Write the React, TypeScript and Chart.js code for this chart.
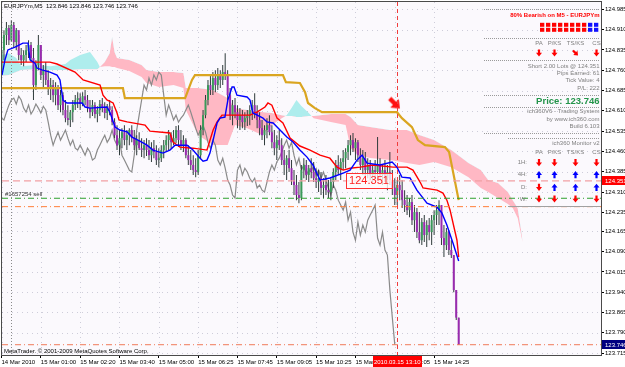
import React, { useEffect, useRef } from 'react';
import { Chart, registerables } from 'chart.js';

Chart.register(...registerables);

const FONT = '"Liberation Sans", Arial, sans-serif';

// ---------------- data ----------------
const chartTitle = 'EURJPYm,M5  123.846 123.846 123.746 123.746';
const copyright = 'MetaTrader. \u00a9 2001-2009 MetaQuotes Software Corp.';
const orderLabel = '#1657254 sell';

const barOpen = [
  124.760, 124.834, 124.890, 124.916, 124.871, 124.927, 124.864, 124.908, 124.816, 124.797,
  124.816, 124.834, 124.853, 124.805, 124.705, 124.779, 124.853, 124.742, 124.760, 124.724,
  124.694, 124.705, 124.668, 124.694, 124.631, 124.668, 124.613, 124.583, 124.576, 124.605,
  124.631, 124.650, 124.657, 124.635, 124.664, 124.650, 124.620, 124.605, 124.631, 124.598,
  124.613, 124.635, 124.620, 124.602, 124.627, 124.613, 124.568, 124.520, 124.483, 124.509,
  124.531, 124.502, 124.520, 124.539, 124.509, 124.483, 124.502, 124.472, 124.465, 124.483,
  124.465, 124.446, 124.472, 124.458, 124.428, 124.435, 124.465, 124.483, 124.502, 124.520,
  124.494, 124.509, 124.539, 124.502, 124.483, 124.502, 124.446, 124.428, 124.410, 124.391,
  124.384, 124.446, 124.539, 124.594, 124.650, 124.705, 124.687, 124.731, 124.705, 124.742,
  124.724, 124.753, 124.742, 124.668, 124.594, 124.631, 124.605, 124.576, 124.594, 124.568,
  124.583, 124.594, 124.613, 124.631, 124.605, 124.576, 124.546, 124.520, 124.539, 124.557,
  124.531, 124.494, 124.472, 124.502, 124.483, 124.428, 124.410, 124.435, 124.398, 124.354,
  124.336, 124.299, 124.288, 124.391, 124.410, 124.373, 124.398, 124.384, 124.361, 124.347,
  124.361, 124.325, 124.336, 124.317, 124.310, 124.347, 124.384, 124.410, 124.391, 124.421,
  124.435, 124.458, 124.483, 124.502, 124.472, 124.494, 124.446, 124.410, 124.435, 124.391,
  124.410, 124.373, 124.391, 124.384, 124.410, 124.373, 124.391, 124.361, 124.384, 124.354,
  124.325, 124.299, 124.336, 124.317, 124.280, 124.262, 124.243, 124.273, 124.206, 124.236,
  124.162, 124.132, 124.199, 124.151, 124.188, 124.162, 124.206, 124.225, 124.243, 124.262,
  124.140, 124.114, 124.162, 124.096, 124.077, 123.948, 123.846,
];
const barHigh = [
  124.871, 124.908, 124.938, 124.927, 124.945, 124.938, 124.916, 124.890, 124.842, 124.834,
  124.853, 124.871, 124.864, 124.842, 124.797, 124.890, 124.853, 124.779, 124.790, 124.760,
  124.731, 124.724, 124.716, 124.705, 124.687, 124.679, 124.650, 124.631, 124.613, 124.650,
  124.668, 124.679, 124.675, 124.679, 124.687, 124.668, 124.650, 124.650, 124.642, 124.627,
  124.650, 124.657, 124.642, 124.635, 124.650, 124.627, 124.583, 124.557, 124.539, 124.546,
  124.557, 124.539, 124.546, 124.557, 124.539, 124.520, 124.531, 124.509, 124.502, 124.509,
  124.502, 124.494, 124.502, 124.483, 124.472, 124.483, 124.502, 124.520, 124.539, 124.531,
  124.539, 124.554, 124.557, 124.539, 124.520, 124.509, 124.483, 124.465, 124.446, 124.435,
  124.465, 124.557, 124.613, 124.668, 124.724, 124.742, 124.753, 124.760, 124.768, 124.760,
  124.779, 124.823, 124.760, 124.694, 124.650, 124.657, 124.631, 124.620, 124.613, 124.605,
  124.613, 124.631, 124.650, 124.675, 124.631, 124.605, 124.576, 124.557, 124.583, 124.594,
  124.557, 124.539, 124.520, 124.539, 124.509, 124.465, 124.446, 124.465, 124.428, 124.391,
  124.373, 124.347, 124.410, 124.435, 124.428, 124.410, 124.435, 124.421, 124.398, 124.391,
  124.384, 124.361, 124.373, 124.354, 124.361, 124.398, 124.428, 124.446, 124.435, 124.465,
  124.472, 124.502, 124.520, 124.528, 124.509, 124.502, 124.472, 124.465, 124.458, 124.435,
  124.428, 124.410, 124.428, 124.513, 124.435, 124.410, 124.428, 124.410, 124.458, 124.391,
  124.361, 124.354, 124.373, 124.354, 124.317, 124.299, 124.288, 124.299, 124.262, 124.251,
  124.236, 124.214, 124.225, 124.206, 124.214, 124.225, 124.243, 124.262, 124.280, 124.262,
  124.188, 124.177, 124.169, 124.132, 124.077, 123.948, 123.846,
];
const barLow = [
  124.742, 124.797, 124.853, 124.853, 124.864, 124.842, 124.834, 124.797, 124.779, 124.775,
  124.790, 124.805, 124.790, 124.650, 124.687, 124.760, 124.724, 124.694, 124.705, 124.668,
  124.650, 124.642, 124.631, 124.613, 124.605, 124.594, 124.568, 124.557, 124.550, 124.568,
  124.613, 124.620, 124.613, 124.627, 124.631, 124.605, 124.583, 124.591, 124.583, 124.568,
  124.591, 124.605, 124.583, 124.576, 124.594, 124.557, 124.509, 124.465, 124.446, 124.472,
  124.483, 124.465, 124.483, 124.494, 124.465, 124.446, 124.465, 124.439, 124.435, 124.443,
  124.428, 124.421, 124.435, 124.410, 124.402, 124.421, 124.435, 124.458, 124.465, 124.472,
  124.483, 124.491, 124.476, 124.465, 124.458, 124.435, 124.410, 124.391, 124.373, 124.365,
  124.373, 124.435, 124.520, 124.583, 124.631, 124.668, 124.668, 124.679, 124.687, 124.694,
  124.705, 124.724, 124.650, 124.576, 124.557, 124.583, 124.546, 124.539, 124.546, 124.539,
  124.554, 124.557, 124.576, 124.583, 124.546, 124.520, 124.502, 124.483, 124.509, 124.520,
  124.472, 124.446, 124.428, 124.465, 124.410, 124.373, 124.354, 124.384, 124.336, 124.299,
  124.280, 124.269, 124.280, 124.361, 124.354, 124.347, 124.361, 124.347, 124.325, 124.310,
  124.299, 124.288, 124.299, 124.288, 124.280, 124.325, 124.354, 124.373, 124.354, 124.391,
  124.398, 124.428, 124.446, 124.458, 124.428, 124.421, 124.391, 124.373, 124.365, 124.361,
  124.354, 124.347, 124.361, 124.354, 124.354, 124.336, 124.347, 124.317, 124.336, 124.299,
  124.262, 124.262, 124.280, 124.251, 124.236, 124.225, 124.217, 124.188, 124.162, 124.140,
  124.121, 124.114, 124.125, 124.107, 124.132, 124.114, 124.151, 124.188, 124.188, 124.114,
  124.070, 124.096, 124.077, 124.066, 123.940, 123.837, 123.746,
];
const barClose = [
  124.834, 124.890, 124.916, 124.871, 124.927, 124.864, 124.908, 124.816, 124.797, 124.816,
  124.834, 124.853, 124.805, 124.705, 124.779, 124.853, 124.742, 124.760, 124.724, 124.694,
  124.705, 124.668, 124.694, 124.631, 124.668, 124.613, 124.583, 124.576, 124.605, 124.631,
  124.650, 124.657, 124.635, 124.664, 124.650, 124.620, 124.605, 124.631, 124.598, 124.613,
  124.635, 124.620, 124.602, 124.627, 124.613, 124.568, 124.520, 124.483, 124.509, 124.531,
  124.502, 124.520, 124.539, 124.509, 124.483, 124.502, 124.472, 124.465, 124.483, 124.465,
  124.446, 124.472, 124.458, 124.428, 124.435, 124.465, 124.483, 124.502, 124.520, 124.494,
  124.509, 124.539, 124.502, 124.483, 124.502, 124.446, 124.428, 124.410, 124.391, 124.384,
  124.446, 124.539, 124.594, 124.650, 124.705, 124.687, 124.731, 124.705, 124.742, 124.724,
  124.753, 124.742, 124.668, 124.594, 124.631, 124.605, 124.576, 124.594, 124.568, 124.583,
  124.594, 124.613, 124.631, 124.605, 124.576, 124.546, 124.520, 124.539, 124.557, 124.531,
  124.494, 124.472, 124.502, 124.483, 124.428, 124.410, 124.435, 124.398, 124.354, 124.336,
  124.299, 124.288, 124.391, 124.410, 124.373, 124.398, 124.384, 124.361, 124.347, 124.361,
  124.325, 124.336, 124.317, 124.310, 124.347, 124.384, 124.410, 124.391, 124.421, 124.435,
  124.458, 124.483, 124.502, 124.472, 124.494, 124.446, 124.410, 124.435, 124.391, 124.410,
  124.373, 124.391, 124.384, 124.410, 124.373, 124.391, 124.361, 124.384, 124.354, 124.325,
  124.299, 124.336, 124.317, 124.280, 124.262, 124.243, 124.273, 124.206, 124.236, 124.162,
  124.132, 124.199, 124.151, 124.188, 124.162, 124.206, 124.225, 124.243, 124.262, 124.140,
  124.114, 124.162, 124.096, 124.077, 123.948, 123.846, 123.746,
];

// indicator lines: [bar index, price]
const tenkanLine = [
  [0.2, 124.742], [1.4, 124.798], [2.6, 124.835], [5.5, 124.845], [8.7, 124.860], [10.8, 124.860],
  [11.6, 124.798], [13.6, 124.786], [14.4, 124.768], [16.5, 124.761], [19.7, 124.753], [22.6, 124.742],
  [23.8, 124.724], [25, 124.650], [26.6, 124.639], [32.8, 124.639], [34, 124.624], [36, 124.620],
  [42.9, 124.624], [44.1, 124.605], [46.2, 124.550], [48.2, 124.539], [51.1, 124.532], [53.1, 124.513],
  [56.3, 124.498], [59.2, 124.483], [61.6, 124.465], [65.7, 124.454], [68.5, 124.465], [70.6, 124.483],
  [75.5, 124.483], [77.9, 124.465], [80.8, 124.435], [82, 124.424], [83.6, 124.428], [84.8, 124.454],
  [86.1, 124.502], [87.7, 124.565], [88.9, 124.583], [90.9, 124.587], [92.1, 124.650], [93.8, 124.698],
  [94.6, 124.698], [95.8, 124.668], [99.9, 124.661], [101.1, 124.650], [102.3, 124.602], [106.4, 124.583],
  [108, 124.569], [110.5, 124.565], [113.3, 124.539], [116.1, 124.513], [118.6, 124.495], [121.4, 124.465],
  [124.3, 124.439], [126.7, 124.410], [129.6, 124.354], [133.6, 124.362], [139, 124.380], [141.8, 124.391],
  [144.6, 124.428], [146.7, 124.446], [148.7, 124.417], [154, 124.410], [158.9, 124.421], [160.9, 124.402],
  [162.9, 124.365], [166.2, 124.362], [169, 124.317], [173.1, 124.269], [177.2, 124.254], [179.2, 124.232],
  [181.2, 124.188], [183.7, 124.121], [186, 124.055],
];
const kijunLine = [
  [0.2, 124.790], [19.7, 124.790], [22.6, 124.783], [29.9, 124.753], [33.2, 124.724], [40.1, 124.705],
  [41.3, 124.668], [42.9, 124.650], [45.4, 124.639], [47, 124.602], [47.8, 124.576], [51.1, 124.569],
  [58.4, 124.557], [60.4, 124.535], [68.5, 124.528], [69.8, 124.495], [72.6, 124.476], [77.9, 124.472],
  [83.6, 124.465], [86.1, 124.539], [87.7, 124.569], [89.7, 124.594], [101.1, 124.594], [103.9, 124.605],
  [107.2, 124.624], [108.4, 124.639], [110, 124.631], [112.1, 124.583], [114.5, 124.565], [117.4, 124.509],
  [121.4, 124.480], [125.5, 124.465], [129.6, 124.446], [133.6, 124.435], [136.5, 124.402], [139, 124.391],
  [141.8, 124.398], [145.9, 124.402], [151.1, 124.410], [159.3, 124.402], [165, 124.402], [167.4, 124.391],
  [170.3, 124.347], [171.5, 124.325], [177.2, 124.317], [179.6, 124.306], [181.2, 124.280], [182.5, 124.243],
  [185.3, 124.132], [186, 124.070],
];
const orangeLine = [
  [0.2, 124.694], [49.4, 124.694], [50.2, 124.657], [74.7, 124.657], [77.5, 124.724], [78.7, 124.742],
  [114.5, 124.742], [115.7, 124.716], [121.4, 124.713], [123.5, 124.679], [124.7, 124.639], [127.5, 124.620],
  [130.4, 124.605], [160.9, 124.605], [162.9, 124.583], [167, 124.550], [169.4, 124.502], [172.3, 124.483],
  [180.4, 124.476], [182.1, 124.458], [186, 124.280],
];
const kumoBars = [
  0, 3, 6, 8, 14, 20, 26, 28, 32, 36, 39, 40, 42, 44, 45, 46, 47, 52, 57, 59, 64, 70, 74, 75, 80, 86, 92, 95,
  100, 106, 110, 114, 116, 118, 120, 122, 125, 127, 134, 140, 142, 145, 150, 158, 165, 170, 176, 183, 190,
  195, 198, 202, 206, 208, 210, 212,
];
const senkouA = [
  124.816, 124.823, 124.805, 124.775, 124.779, 124.775, 124.783, 124.798, 124.816, 124.827, 124.790, 124.772,
  124.775, 124.775, 124.772, 124.772, 124.768, 124.757, 124.735, 124.713, 124.698, 124.705, 124.694, 124.613,
  124.521, 124.484, 124.484, 124.558, 124.546, 124.521, 124.558, 124.583, 124.594, 124.620, 124.650, 124.628,
  124.602, 124.583, 124.569, 124.558, 124.473, 124.447, 124.436, 124.428, 124.417, 124.410, 124.421, 124.402,
  124.365, 124.325, 124.310, 124.288, 124.266, 124.251, 124.214, 124.125,
];
const senkouB = [
  124.739, 124.742, 124.753, 124.761, 124.764, 124.761, 124.761, 124.761, 124.764, 124.764, 124.764, 124.772,
  124.790, 124.823, 124.883, 124.827, 124.805, 124.798, 124.779, 124.761, 124.753, 124.753, 124.750, 124.694,
  124.694, 124.687, 124.657, 124.620, 124.613, 124.606, 124.602, 124.594, 124.591, 124.591, 124.587, 124.587,
  124.591, 124.591, 124.598, 124.598, 124.587, 124.558, 124.550, 124.539, 124.539, 124.521, 124.502, 124.465,
  124.417, 124.391, 124.354, 124.343, 124.310, 124.280, 124.251, 124.133,
];

const xTickBars = [0, 16, 32, 48, 64, 80, 96, 112, 128, 144, 160, 176];
const xTickLabels = [
  '14 Mar 2010', '15 Mar 01:00', '15 Mar 02:20', '15 Mar 03:40', '15 Mar 05:00', '15 Mar 06:25',
  '15 Mar 07:45', '15 Mar 09:05', '15 Mar 10:25', '15 Mar 11:45', '15 Mar 13:05', '15 Mar 14:25',
];
const yTickValues = [
  124.985, 124.910, 124.835, 124.760, 124.685, 124.610, 124.535, 124.460, 124.385, 124.310,
  124.235, 124.165, 124.090, 124.015, 123.940, 123.865, 123.790, 123.715,
];

const entryPrice = 124.351;
const greenLevel = 124.287;
const orangeLevel = 124.256;
const bidPrice = 123.746;
const chikouShift = 26;
const separatorBar = 4;
const cursorBar = 161;
const cursorTime = '2010.03.15 13:10';
const signalBar = 160;
const signalPrice = 124.637;
const entryLabelBar = 140.2;
const xMin = 0.2;
const xMax = 243.9;
const yMin = 123.708;
const yMax = 125.012;

// info panel
const panelHeadline = '80% Bearish on M5 - EURJPYm';
const strengthBoxes = [1, 1, 1, 1, 1, 1, 1, 1, 0, 0];
const signalCols = ['PA', 'P/KS', 'TS/KS', 'CS'];
const m5Signals = [-1, -1, -2, -1];
const tradeInfo = ['Short 2.00 Lots @ 124.351', 'Pips Earned: 61', 'Tick Value: 4', 'P/L: 222'];
const priceText = 'Price: 123.746';
const aboutInfo = ['ich360V6 - Trading System', 'by www.ich360.com', 'Build 6.103'];
const monitorTitle = 'ich360 Monitor v2';
const monitorRows = ['1H:', '4H:', 'D:', 'W:'];
const monitorSignals = [
  [-1, -1, -1, -1],
  [1, 1, 1, 1],
  [-1, 1, 1, 1],
  [-1, -1, -1, -1],
];

// ---------------- drawing helpers ----------------
function drawArrow(ctx: CanvasRenderingContext2D, cx: number, cy: number, angle: number, s: number, color: string) {
  ctx.save();
  ctx.translate(cx, cy);
  ctx.rotate(angle);
  ctx.fillStyle = color;
  ctx.beginPath();
  ctx.moveTo(-1.1 * s, -3.6 * s);
  ctx.lineTo(1.1 * s, -3.6 * s);
  ctx.lineTo(1.1 * s, -0.2 * s);
  ctx.lineTo(3 * s, -0.2 * s);
  ctx.lineTo(0, 3.6 * s);
  ctx.lineTo(-3 * s, -0.2 * s);
  ctx.lineTo(-1.1 * s, -0.2 * s);
  ctx.closePath();
  ctx.fill();
  ctx.restore();
}
function signalArrow(ctx: CanvasRenderingContext2D, cx: number, cy: number, sig: number) {
  if (sig === 1) drawArrow(ctx, cx, cy, Math.PI, 1, '#0000ff');
  else if (sig === -2) drawArrow(ctx, cx, cy, -Math.PI / 4, 1, '#ff0000');
  else drawArrow(ctx, cx, cy, 0, 1, '#ff0000');
}
function hline(ctx: CanvasRenderingContext2D, x0: number, x1: number, y: number, dash: number[], color: string) {
  ctx.save();
  ctx.strokeStyle = color;
  ctx.lineWidth = 1;
  ctx.setLineDash(dash);
  ctx.beginPath();
  ctx.moveTo(x0, Math.round(y) + 0.5);
  ctx.lineTo(x1, Math.round(y) + 0.5);
  ctx.stroke();
  ctx.restore();
}

const mtPlugin = {
  id: 'mtOverlay',
  beforeDraw(chart: any) {
    const { ctx, chartArea: a } = chart;
    const xs = chart.scales.x;
    const ys = chart.scales.y;
    ctx.save();
    ctx.fillStyle = '#ffffff';
    ctx.fillRect(0, 0, chart.width, chart.height);
    ctx.fillStyle = '#fbf9fd';
    ctx.fillRect(a.left, a.top, a.right - a.left, a.bottom - a.top);
    ctx.strokeStyle = 'rgba(150,150,175,0.45)';
    ctx.lineWidth = 1;
    ctx.setLineDash([1, 4]);
    ctx.beginPath();
    xTickBars.forEach((b) => {
      const x = Math.round(xs.getPixelForValue(b)) + 0.5;
      if (x > a.left && x < a.right) { ctx.moveTo(x, a.top); ctx.lineTo(x, a.bottom); }
    });
    yTickValues.forEach((v) => {
      const y = Math.round(ys.getPixelForValue(v)) + 0.5;
      if (y > a.top && y < a.bottom) { ctx.moveTo(a.left, y); ctx.lineTo(a.right, y); }
    });
    ctx.stroke();
    ctx.restore();
  },
  afterDatasetsDraw(chart: any) {
    const { ctx, chartArea: a } = chart;
    const xs = chart.scales.x;
    const ys = chart.scales.y;
    ctx.save();
    // period separator
    const sx = Math.round(xs.getPixelForValue(separatorBar)) + 0.5;
    ctx.strokeStyle = '#8a8a8a';
    ctx.lineWidth = 1;
    ctx.setLineDash([1, 2]);
    ctx.beginPath(); ctx.moveTo(sx, a.top); ctx.lineTo(sx, a.bottom); ctx.stroke();
    // cursor line
    const cx = Math.round(xs.getPixelForValue(cursorBar)) + 0.5;
    ctx.strokeStyle = '#f03c3c';
    ctx.setLineDash([4, 3]);
    ctx.beginPath(); ctx.moveTo(cx, a.top); ctx.lineTo(cx, a.bottom); ctx.stroke();
    ctx.setLineDash([]);

    // entry price label on chart
    const ex = xs.getPixelForValue(entryLabelBar);
    const ey = ys.getPixelForValue(entryPrice);
    ctx.font = `11px ${FONT}`;
    const et = entryPrice.toFixed(3);
    const ew = ctx.measureText(et).width;
    ctx.fillStyle = 'rgba(255,250,250,0.8)';
    ctx.fillRect(ex, ey - 7.5, ew + 6, 15);
    ctx.strokeStyle = '#ff3030';
    ctx.lineWidth = 1;
    ctx.strokeRect(Math.round(ex) + 0.5, Math.round(ey - 7.5) + 0.5, Math.round(ew + 6), 15);
    ctx.fillStyle = '#ff2020';
    ctx.textAlign = 'left';
    ctx.textBaseline = 'middle';
    ctx.fillText(et, ex + 3, ey + 0.5);

    // small texts
    ctx.font = `6px ${FONT}`;
    ctx.fillStyle = '#000000';
    ctx.fillText(chartTitle, 4, 6.5);
    ctx.fillText(copyright, 4, 351.5);
    ctx.fillStyle = '#333333';
    ctx.fillText(orderLabel, 5, 194.5);

    // ---- right info panel ----
    const R = 599.5;
    const dotted = (y: number, x0: number) => hline(ctx, x0, 600, y, [1, 1], '#9a9a9a');
    [8.7, 38.3, 60, 95, 107.3, 132.7].forEach((y) => dotted(y, 484));
    dotted(137.5, 508);
    hline(ctx, 508, 600, 205.7, [], '#a0a0a0');

    ctx.textAlign = 'right';
    ctx.font = `bold 6px ${FONT}`;
    ctx.fillStyle = '#ff0000';
    ctx.fillText(panelHeadline, R, 15.7);
    strengthBoxes.forEach((b, k) => {
      ctx.fillStyle = b ? '#ff0000' : '#1010ff';
      ctx.fillRect(540 + k * 6, 22.8, 4.3, 4);
      ctx.fillRect(540 + k * 6, 27.8, 4.3, 4);
    });
    const colX = [539, 554.5, 575.5, 596.5];
    ctx.font = `6px ${FONT}`;
    ctx.fillStyle = '#808080';
    ctx.textAlign = 'center';
    signalCols.forEach((c, k) => ctx.fillText(c, colX[k], 43.7));
    m5Signals.forEach((s, k) => signalArrow(ctx, colX[k], 53, s));
    ctx.textAlign = 'right';
    ctx.fillStyle = '#808080';
    [66, 73.3, 80.7, 88].forEach((y, k) => ctx.fillText(tradeInfo[k], R, y));
    ctx.font = `bold 9.5px ${FONT}`;
    ctx.fillStyle = '#23944a';
    ctx.fillText(priceText, R, 101);
    ctx.font = `6px ${FONT}`;
    ctx.fillStyle = '#808080';
    [111.7, 119, 126].forEach((y, k) => ctx.fillText(aboutInfo[k], R, y));
    ctx.fillText(monitorTitle, R, 143.3);
    ctx.textAlign = 'center';
    signalCols.forEach((c, k) => ctx.fillText(c, colX[k], 152.7));
    const rowY = [162.7, 174.7, 187.3, 199];
    monitorRows.forEach((r, j) => {
      ctx.textAlign = 'right';
      ctx.fillStyle = '#808080';
      ctx.fillText(r, 527, rowY[j]);
      monitorSignals[j].forEach((s, k) => signalArrow(ctx, colX[k], rowY[j], s));
    });
    ctx.restore();
  },
  afterDraw(chart: any) {
    const { ctx, chartArea: a } = chart;
    const xs = chart.scales.x;
    const ys = chart.scales.y;
    ctx.save();
    ctx.strokeStyle = '#4a4a4a';
    ctx.lineWidth = 1;
    ctx.strokeRect(a.left - 0.5, a.top - 0.5, a.right - a.left + 1, a.bottom - a.top + 1);
    ctx.font = `6px ${FONT}`;
    ctx.textBaseline = 'middle';
    // price boxes on right axis
    const boxes = [
      { v: entryPrice, bg: '#ff0000' },
      { v: bidPrice, bg: '#000080' },
    ];
    boxes.forEach((b) => {
      const y = ys.getPixelForValue(b.v);
      ctx.fillStyle = b.bg;
      ctx.fillRect(a.right + 1, Math.round(y - 4.5), 24, 9);
      ctx.fillStyle = '#ffffff';
      ctx.textAlign = 'left';
      ctx.fillText(b.v.toFixed(3), a.right + 4, y + 0.3);
    });
    // cursor time box on x axis
    const cx = xs.getPixelForValue(cursorBar);
    ctx.fillStyle = '#ff0000';
    ctx.fillRect(Math.round(cx - 24.5), a.bottom + 1, 49, 11);
    ctx.fillStyle = '#ffffff';
    ctx.textAlign = 'center';
    ctx.fillText(cursorTime, cx, a.bottom + 7);
    ctx.restore();
  },
};

export default function App() {
  const ref = useRef<HTMLCanvasElement | null>(null);
  useEffect(() => {
    const canvas = ref.current;
    if (!canvas) return;

    const arrowImg = document.createElement('canvas');
    arrowImg.width = 22;
    arrowImg.height = 22;
    const actx = arrowImg.getContext('2d');
    if (actx) drawArrow(actx, 11, 11, -Math.PI / 4, 2, '#ff1010');

    const BULL = '#3a9a5a';
    const BEAR = '#9a2ab0';
    const lvl = (v: number) => [{ x: xMin, y: v }, { x: xMax, y: v }];
    const pts = (arr: number[][]) => arr.map(([x, y]) => ({ x, y }));

    const datasets: any[] = [
      { type: 'line', data: pts(tenkanLine), borderColor: '#0000ff', borderWidth: 1.4, pointRadius: 0, order: 1 },
      { type: 'line', data: pts(kijunLine), borderColor: '#ff0000', borderWidth: 1.4, pointRadius: 0, order: 2 },
      { type: 'line', data: pts(orangeLine), borderColor: '#daa520', borderWidth: 2.2, pointRadius: 0, order: 3 },
      {
        type: 'line', data: [{ x: signalBar, y: signalPrice }], showLine: false,
        pointStyle: arrowImg, pointRadius: 8, order: 0,
      },
      {
        type: 'bar', data: barOpen.map((o, i) => ({ x: i, y: [o, barClose[i]] })),
        backgroundColor: barOpen.map((o, i) => (barClose[i] >= o ? BULL : BEAR)),
        barThickness: 2, minBarLength: 1, grouped: false, borderWidth: 0, inflateAmount: 0, order: 4,
      },
      {
        type: 'bar', data: barOpen.map((_, i) => ({ x: i, y: [barLow[i], barHigh[i]] })),
        backgroundColor: '#2f3b3b', barThickness: 1, grouped: false, borderWidth: 0, inflateAmount: 0, order: 5,
      },
      {
        type: 'line', data: barClose.map((c, i) => ({ x: i - chikouShift, y: c })),
        borderColor: '#8a8a8a', borderWidth: 1.2, pointRadius: 0, order: 6,
      },
      { type: 'line', data: lvl(entryPrice), borderColor: '#f2a0a4', borderWidth: 1.3, borderDash: [7, 4], pointRadius: 0, order: 0.5 },
      { type: 'line', data: lvl(greenLevel), borderColor: '#2ca02c', borderWidth: 1, borderDash: [6, 3, 1, 3], pointRadius: 0, order: 0.5 },
      { type: 'line', data: lvl(orangeLevel), borderColor: '#ff7f3a', borderWidth: 1, borderDash: [6, 3, 1, 3], pointRadius: 0, order: 0.5 },
      { type: 'line', data: lvl(bidPrice), borderColor: '#f07a5a', borderWidth: 1, borderDash: [6, 3, 1, 3], pointRadius: 0, order: 0.5 },
      {
        type: 'line', data: kumoBars.map((b, i) => ({ x: b, y: senkouA[i] })),
        borderWidth: 0, borderColor: 'rgba(0,0,0,0)', pointRadius: 0, order: 9,
        fill: { target: 12, above: '#aeeded', below: '#ffb8c4' },
      },
      {
        type: 'line', data: kumoBars.map((b, i) => ({ x: b, y: senkouB[i] })),
        borderWidth: 0, borderColor: 'rgba(0,0,0,0)', pointRadius: 0, order: 10,
      },
    ];

    const tickFont = { family: FONT, size: 6 };
    const chart = new Chart(canvas, {
      type: 'line',
      data: { datasets },
      options: {
        animation: false,
        responsive: false,
        maintainAspectRatio: false,
        events: [],
        layout: { autoPadding: false, padding: { left: 2, top: 2, right: 0, bottom: 0 } },
        plugins: { legend: { display: false }, tooltip: { enabled: false } },
        elements: { line: { tension: 0 }, point: { radius: 0 } },
        scales: {
          x: {
            type: 'linear', position: 'bottom', min: xMin, max: xMax, offset: false, bounds: 'data',
            grid: { display: true, drawOnChartArea: false, drawTicks: true, tickLength: 3, tickColor: '#000', offset: false },
            border: { display: false },
            ticks: {
              font: tickFont, color: '#000', align: 'start', maxRotation: 0, minRotation: 0,
              autoSkip: false, padding: 1,
              callback: (_v: any, i: number) => xTickLabels[i],
            },
            afterBuildTicks: (s: any) => { s.ticks = xTickBars.map((v) => ({ value: v })); },
            afterFit: (s: any) => { s.height = 12; s.paddingLeft = 0; s.paddingRight = 0; },
          },
          y: {
            type: 'linear', position: 'right', min: yMin, max: yMax, bounds: 'data',
            grid: { display: true, drawOnChartArea: false, drawTicks: true, tickLength: 3, tickColor: '#000' },
            border: { display: false },
            ticks: {
              font: tickFont, color: '#000', padding: 1, autoSkip: false,
              callback: (v: any) => Number(v).toFixed(3),
            },
            afterBuildTicks: (s: any) => { s.ticks = yTickValues.map((v) => ({ value: v })); },
            afterFit: (s: any) => { s.width = 24; s.paddingTop = 0; s.paddingBottom = 0; },
          },
        },
      } as any,
      plugins: [mtPlugin],
    } as any);
    return () => chart.destroy();
  }, []);

  return (
    <div style={{ position: 'absolute', left: 0, top: 0, width: 625, height: 367 }}>
      <canvas ref={ref} width={625} height={367} style={{ display: 'block', width: 625, height: 367 }} />
    </div>
  );
}
